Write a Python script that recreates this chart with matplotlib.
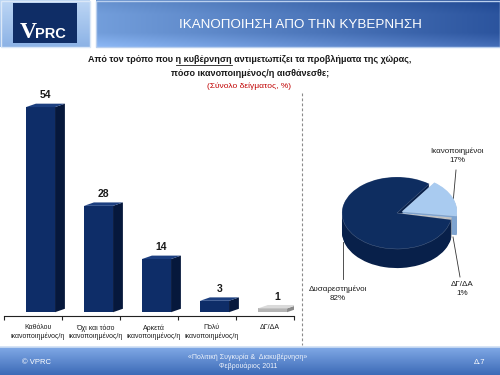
import numpy as np
import matplotlib
matplotlib.use("Agg")
import matplotlib.pyplot as plt
from matplotlib.patches import Polygon, Rectangle

plt.rcParams['font.family'] = ['Liberation Sans', 'DejaVu Sans']

# --- data ---
categories = ["Καθόλου\nικανοποιημένος/η", "Όχι και τόσο\nικανοποιημένος/η",
              "Αρκετά\nικανοποιημένος/η", "Πολύ\nικανοποιημένος/η", "ΔΓ/ΔΑ"]
values = [54, 28, 14, 3, 1]
bar_colors = ['#0e2d68', '#0e2d68', '#0e2d68', '#0e2d68', '#b4b4b4']
side_colors = ['#06183c', '#06183c', '#06183c', '#06183c', '#8a8a8a']
top_colors = ['#1c3f80', '#1c3f80', '#1c3f80', '#1c3f80', '#dadada']

pie_labels = ["Ικανοποιημένοι", "ΔΓ/ΔΑ", "Δυσαρεστημένοι"]
pie_values = [17, 1, 82]
pie_top = ['#a9cbf0', '#c0c0c0', '#0e2d60']
pie_side = ['#7ea3cf', '#8a8a8a', '#08204a']

title = "ΙΚΑΝΟΠΟΙΗΣΗ ΑΠΟ ΤΗΝ ΚΥΒΕΡΝΗΣΗ"
sub_pre = "Από τον τρόπο που "
sub_ul = "η κυβέρνηση"
sub_post = " αντιμετωπίζει τα προβλήματα της χώρας,"
sub2 = "πόσο ικανοποιημένος/η αισθάνεσθε;"
sub3 = "(Σύνολο δείγματος, %)"
foot_left = "© VPRC"
foot_mid = "«Πολιτική Συγκυρία &  Διακυβέρνηση»\nΦεβρουάριος 2011"
foot_right = "Δ.7"

W, H = 500, 375
fig = plt.figure(figsize=(5, 3.75), dpi=100)
fig.patch.set_facecolor('white')


def px_axes(x0, y0, x1, y1):
    return fig.add_axes([x0 / W, 1 - y1 / H, (x1 - x0) / W, (y1 - y0) / H])


# background / decorations in pixel coords
bg = fig.add_axes([0, 0, 1, 1])
bg.set_xlim(0, W)
bg.set_ylim(H, 0)
bg.axis('off')

# logo panel
g = np.linspace(0, 1, 50)[:, None, None]
logo_bg = (1 - g) * np.array([0.74, 0.84, 0.96]) + g * np.array([0.55, 0.70, 0.90])
bg.imshow(np.repeat(logo_bg, 2, axis=1), extent=(0, 90, 47, 0), aspect='auto', zorder=1)
bg.add_patch(Rectangle((0.5, 0.5), 89, 46.5, fill=False, ec='#dbe8f8', lw=1, zorder=2))
bg.add_patch(Rectangle((13, 3), 64, 40, fc='#0f2d66', ec='none', zorder=2))
bg.text(20, 38.5, "V", color='white', fontsize=17, fontweight='bold',
        family='Liberation Serif', zorder=3)
bg.text(35, 38, "PRC", color='white', fontsize=10.5, fontweight='bold', zorder=3)

# title bar gradient
nx, ny = 200, 50
xx = np.linspace(0, 1, nx)[None, :, None]
yy = np.linspace(0, 1, ny)[:, None, None]
left_c = np.array([0.45, 0.62, 0.86])
right_c = np.array([0.17, 0.33, 0.62])
grad = (1 - xx) * left_c + xx * right_c
grad = grad + 0.10 * np.clip((yy - 0.7) / 0.3, 0, 1) - 0.05 * np.clip((0.3 - yy) / 0.3, 0, 1)
grad = np.clip(grad, 0, 1)
bg.imshow(grad, extent=(96, 500, 47, 0), aspect='auto', zorder=1)
bg.add_patch(Rectangle((96, 0.5), 403.5, 46.5, fill=False, ec='#b9cfee', lw=1, zorder=2))
bg.text(300, 25, title, color='white', fontsize=9.6, ha='center', va='center', zorder=3)

# footer
fy = np.linspace(0, 1, 30)[:, None, None]
foot = (1 - fy) * np.array([0.50, 0.66, 0.90]) + fy * np.array([0.24, 0.42, 0.72])
bg.imshow(np.repeat(foot, 2, axis=1), extent=(0, 500, 375, 347), aspect='auto', zorder=1)
bg.plot([0, 500], [346.5, 346.5], color='#cfdff4', lw=1.2, zorder=2)
bg.text(22, 363, foot_left, color='white', fontsize=5.5, va='center', zorder=3)
bg.text(248, 362, foot_mid, color='#eef3fb', fontsize=5, ha='center', va='center',
        linespacing=1.3, zorder=3)
bg.text(480, 363, foot_right, color='white', fontsize=5.5, ha='center', va='center', zorder=3)

# subtitles with underline
sub_full = sub_pre + sub_ul + sub_post
bg.text(250, 60, sub_full, fontsize=6.5, fontweight='bold', ha='center', va='center',
        color='#1a1a1a')
bg.text(250, 73, sub2, fontsize=6.5, fontweight='bold', ha='center', va='center', color='#1a1a1a')
bg.text(249, 86, sub3, fontsize=6, ha='center', va='center', color='#c00000')
r = fig.canvas.get_renderer()


def tw(s):
    tt = bg.text(0, 0, s, fontsize=6.5, fontweight='bold')
    w = tt.get_window_extent(renderer=r).width
    tt.remove()
    return w


full_w = tw(sub_full)
x_left = 250 - full_w / 2
x_end = x_left + tw(sub_pre + sub_ul)
x_start = x_end - tw(sub_ul)
bg.plot([x_start, x_end], [64.5, 64.5], color='#1a1a1a', lw=0.6)

# dashed divider
bg.plot([302, 302], [93, 345], color='#8a8a8a', lw=0.8, ls=(0, (2.5, 2)))

# --- bar chart ---
ax = px_axes(4, 90, 294, 316)
ax.set_xlim(-0.5, 4.5)
ax.set_ylim(-1, 58.5)
ax.set_facecolor('none')
for s in ['top', 'right', 'left']:
    ax.spines[s].set_visible(False)
ax.spines['bottom'].set_position(('data', -1))
ax.spines['bottom'].set_color('#222222')
ax.spines['bottom'].set_linewidth(0.8)

off, bw, dx, dy = 0.13, 0.5, 0.17, 0.9
x = np.arange(len(values))
xc = x + off
ax.bar(xc, values, width=bw, color=bar_colors, zorder=2)
for i, v in enumerate(values):
    xl, xr = xc[i] - bw / 2, xc[i] + bw / 2
    ax.add_patch(Polygon([(xr, 0), (xr + dx, dy), (xr + dx, v + dy), (xr, v)],
                         closed=True, fc=side_colors[i], ec='none', zorder=2))
    ax.add_patch(Polygon([(xl, v), (xl + dx, v + dy), (xr + dx, v + dy), (xr, v)],
                         closed=True, fc=top_colors[i], ec='none', zorder=2))
    ax.text(xc[i] + dx / 2, v + dy + 2.2, str(v), ha='center', va='center',
            fontsize=7.5, fontweight='bold', color='#1a1a1a')

ax.set_yticks([])
ax.set_xticks(x + 0.08)
ax.set_xticklabels(categories, fontsize=5.0, linespacing=1.2, color='#1a1a1a')
ax.tick_params(axis='x', which='major', length=0, pad=6)
ax.set_xticks(np.arange(-0.5, 5, 1), minor=True)
ax.tick_params(axis='x', which='minor', length=3, width=0.8, direction='out', color='#222222')

# --- 3D-looking pie ---
pax = px_axes(322, 153, 472, 273)
thick = 0.53
explode = [0.1, 0.0, 0.0]
for t in np.linspace(thick, 0.01, 20):
    pax.pie(pie_values, colors=pie_side, startangle=54, counterclock=False,
            explode=explode, center=(0, -t), radius=1,
            wedgeprops=dict(linewidth=0))
pax.pie(pie_values, colors=pie_top, startangle=54, counterclock=False,
        explode=explode, center=(0, 0), radius=1,
        wedgeprops=dict(linewidth=0.3, edgecolor='#ffffff55'))
pax.set_aspect('auto')
pax.set_xlim(-1.364, 1.364)
pax.set_ylim(-1.667, 1.667)
pax.axis('off')

# pie labels and leader lines
lab_fs = 5.8
bg.text(457, 156, pie_labels[0] + "\n" + str(pie_values[0]) + "%", ha='center', va='center',
        fontsize=lab_fs, color='#1a1a1a', linespacing=1.5)
bg.plot([456, 453], [170, 203], color='#333333', lw=0.6)
bg.text(462, 289, pie_labels[1] + "\n" + str(pie_values[1]) + "%", ha='center', va='center',
        fontsize=lab_fs, color='#1a1a1a', linespacing=1.5)
bg.plot([453, 460], [237, 277], color='#333333', lw=0.6)
bg.text(338, 294, pie_labels[2] + "\n" + str(pie_values[2]) + "%", ha='center', va='center',
        fontsize=lab_fs, color='#1a1a1a', linespacing=1.5)
bg.plot([343, 343], [242, 279], color='#333333', lw=0.6)

fig.savefig('out.png', dpi=100)
